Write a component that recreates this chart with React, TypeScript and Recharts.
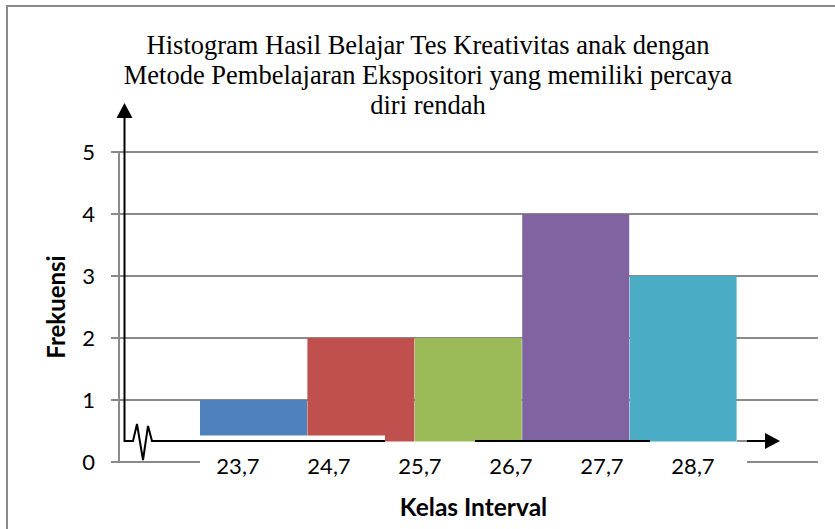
import { ComposedChart, Bar, Cell, Scatter, XAxis, YAxis, CartesianGrid, ReferenceArea } from 'recharts';

const kelas = ['23,7', '24,7', '25,7', '26,7', '27,7'];
const frekuensi = [1, 2, 2, 4, 3];
const warna = ['#4F81BD', '#C0504D', '#9BBB59', '#8064A2', '#4BACC6'];
const batasKelas = [23.7, 24.7, 25.7, 26.7, 27.7, 28.7];
const yTicks = [0, 1, 2, 3, 4, 5];

const data = kelas.map((k, i) => ({ kelas: k, frekuensi: frekuensi[i] }));
const batasData = batasKelas.map((b) => ({ batas: b, nol: 0 }));

const grey = '#8a8a8a';
const font = 'Lato, "Noto Sans", sans-serif';

function BatasTick(props: any) {
  const { x, payload } = props;
  return (
    <text x={x} y={474} textAnchor="middle" fontSize={22} fontFamily={font} fill="#000">
      {Number(payload.value).toFixed(1).replace('.', ',')}
    </text>
  );
}

export default function App() {
  return (
    <div style={{ position: 'absolute', left: 0, top: 0, width: 835, height: 529, background: '#fff', overflow: 'hidden' }}>
      <ComposedChart
        width={835}
        height={529}
        data={data}
        margin={{ top: 152, right: 17, bottom: 37, left: 0 }}
        barCategoryGap={0}
        barGap={0}
      >
        <CartesianGrid xAxisId="bar" vertical={false} stroke={grey} strokeWidth={2} />
        <XAxis xAxisId="bar" dataKey="kelas" hide padding={{ left: 81, right: 81 }} />
        <XAxis
          xAxisId="batas"
          dataKey="batas"
          type="number"
          domain={[23.7, 28.7]}
          ticks={batasKelas}
          allowDataOverflow
          padding={{ left: 119, right: 125 }}
          height={30}
          axisLine={false}
          tickLine={false}
          tick={<BatasTick />}
          interval={0}
          label={{ value: 'Kelas Interval', position: 'bottom', offset: -23, dx: 5, fontSize: 24.5, fontWeight: 'bold', fontFamily: font, fill: '#000' }}
        />
        <YAxis
          width={119}
          domain={[0, 5]}
          ticks={yTicks}
          interval={0}
          axisLine={{ stroke: grey, strokeWidth: 2 }}
          tickLine={{ stroke: grey, strokeWidth: 2 }}
          tickSize={8}
          tickMargin={16}
          tick={{ fontSize: 22, fontFamily: font, fill: '#000' }}
          label={{ value: 'Frekuensi', angle: -90, position: 'center', dx: -3, fontSize: 24, fontWeight: 'bold', fontFamily: font, fill: '#000' }}
        />
        <Bar dataKey="frekuensi" xAxisId="bar" isAnimationActive={false}>
          {data.map((d, i) => (
            <Cell key={d.kelas} fill={warna[i]} />
          ))}
        </Bar>
        <Scatter
          xAxisId="batas"
          data={batasData}
          dataKey="nol"
          isAnimationActive={false}
          shape={() => <g />}
        />
        <ReferenceArea
          xAxisId="bar"
          x1={kelas[0]}
          x2={kelas[kelas.length - 1]}
          y1={-0.1}
          y2={0.33}
          ifOverflow="visible"
          fill="#fff"
          fillOpacity={1}
          stroke="none"
          zIndex={350}
        />
      </ComposedChart>

      <svg width={835} height={529} style={{ position: 'absolute', left: 0, top: 0, pointerEvents: 'none' }}>
        <line x1={7} y1={529} x2={7} y2={6} stroke={grey} strokeWidth={2} />
        <line x1={6} y1={6} x2={835} y2={6} stroke={grey} strokeWidth={2} />
        <rect x={198} y={435.5} width={187} height={4.5} fill="#fff" />
        <line x1={737} y1={462} x2={747} y2={462} stroke="#fff" strokeWidth={3} />
        <line x1={124.5} y1={116} x2={124.5} y2={442} stroke="#000" strokeWidth={2} />
        <polygon points="116.5,118 124.5,103 132.5,118" fill="#000" />
        <polyline
          points="124,441 133,441 137,424 143,460 148,426 152,441 385,441"
          fill="none"
          stroke="#000"
          strokeWidth={2}
        />
        <line x1={475} y1={441} x2={650} y2={441} stroke="#000" strokeWidth={2} />
        <line x1={737} y1={441} x2={747} y2={441} stroke={grey} strokeWidth={2} />
        <line x1={747} y1={441} x2={766} y2={441} stroke="#000" strokeWidth={2} />
        <polygon points="765,433 780,441 765,449" fill="#000" />
      </svg>

      <div
        style={{
          position: 'absolute',
          left: 78,
          top: 30,
          width: 700,
          textAlign: 'center',
          fontFamily: '"Liberation Serif", "Times New Roman", serif',
          fontSize: 26.5,
          lineHeight: '30px',
          color: '#000',
        }}
      >
        Histogram Hasil Belajar Tes Kreativitas anak dengan
        <br />
        Metode Pembelajaran Ekspositori yang memiliki percaya
        <br />
        diri rendah
      </div>
    </div>
  );
}
